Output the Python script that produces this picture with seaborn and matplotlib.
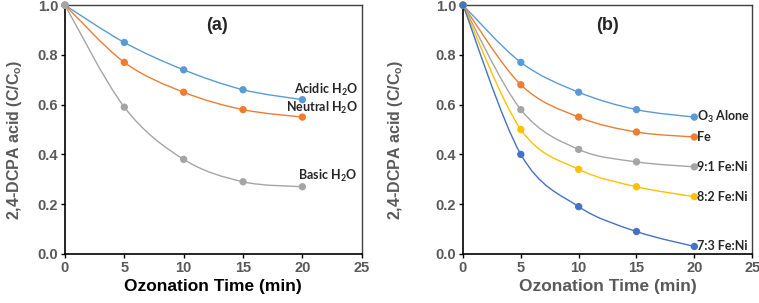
import numpy as np
import pandas as pd
import matplotlib
matplotlib.use("Agg")
import matplotlib.pyplot as plt
from matplotlib.path import Path
from matplotlib.patches import PathPatch
import seaborn as sns

# ----------------------------
# data
# ----------------------------
time_min = [0, 5, 10, 15, 20]

# panel (a): water matrix
acidic = [1.0, 0.85, 0.74, 0.66, 0.62]
neutral = [1.0, 0.77, 0.65, 0.58, 0.55]
basic = [1.0, 0.59, 0.38, 0.29, 0.27]
labels_a = ["Acidic H$_2$O", "Neutral H$_2$O", "Basic H$_2$O"]

# panel (b): catalysts
o3_alone = [1.0, 0.77, 0.65, 0.58, 0.55]
fe = [1.0, 0.68, 0.55, 0.49, 0.47]
fe_ni_91 = [1.0, 0.58, 0.42, 0.37, 0.35]
fe_ni_82 = [1.0, 0.50, 0.34, 0.27, 0.23]
fe_ni_73 = [1.0, 0.40, 0.19, 0.09, 0.03]
labels_b = ["O$_3$ Alone", "Fe", "9:1 Fe:Ni", "8:2 Fe:Ni", "7:3 Fe:Ni"]

BLUE = "#5B9BD5"
ORANGE = "#ED7D31"
GREY = "#A5A5A5"
YELLOW = "#FFC000"
DBLUE = "#4472C4"
TXT = "#595959"

sns.set_style("ticks")
plt.rcParams["font.family"] = ["Liberation Sans", "DejaVu Sans"]
plt.rcParams["mathtext.fontset"] = "custom"
plt.rcParams["mathtext.rm"] = "Lato:bold"
plt.rcParams["mathtext.it"] = "Lato:bold"
plt.rcParams["mathtext.bf"] = "Lato:bold"


def smooth_path(x, y, t=1 / 6):
    # excel-like smoothed line: cubic bezier through the points
    x = np.asarray(x, float)
    y = np.asarray(y, float)
    verts = [(x[0], y[0])]
    codes = [Path.MOVETO]
    n = len(x)
    for i in range(n - 1):
        p0 = (x[max(i - 1, 0)], y[max(i - 1, 0)])
        p1 = (x[i], y[i])
        p2 = (x[i + 1], y[i + 1])
        p3 = (x[min(i + 2, n - 1)], y[min(i + 2, n - 1)])
        c1 = (p1[0] + (p2[0] - p0[0]) * t, p1[1] + (p2[1] - p0[1]) * t)
        c2 = (p2[0] - (p3[0] - p1[0]) * t, p2[1] - (p3[1] - p1[1]) * t)
        verts += [c1, c2, p2]
        codes += [Path.CURVE4] * 3
    return Path(verts, codes)


def draw_panel(ax, series, colors, ylab_x):
    for vals, col in zip(series, colors):
        ax.add_patch(PathPatch(smooth_path(time_min, vals), fill=False,
                               edgecolor=col, lw=1.0, zorder=2))
    df = pd.DataFrame({
        "t": time_min * len(series),
        "c": sum(series, []),
        "s": sum([[i] * len(time_min) for i in range(len(series))], []),
    })
    sns.scatterplot(data=df, x="t", y="c", hue="s", palette=colors,
                    s=28, edgecolor="none", legend=False, zorder=3, ax=ax,
                    clip_on=False)
    ax.set_xlim(0, 25)
    ax.set_ylim(0, 1.0)
    ax.set_xticks([0, 5, 10, 15, 20, 25])
    ax.set_yticks(np.arange(0, 1.01, 0.2))
    ax.yaxis.set_major_formatter(matplotlib.ticker.FormatStrFormatter("%.1f"))
    ax.tick_params(direction="out", length=3, width=1, colors="black",
                   labelcolor=TXT, labelsize=10.5, pad=2)
    for lab in ax.get_xticklabels() + ax.get_yticklabels():
        lab.set_fontweight("bold")
    for side in ["left", "bottom"]:
        ax.spines[side].set_color("black")
        ax.spines[side].set_linewidth(1.2)
    for side in ["top", "right"]:
        ax.spines[side].set_visible(True)
        ax.spines[side].set_color("#404040")
        ax.spines[side].set_linewidth(1.0)
    ax.set_ylabel("2,4-DCPA acid (C/C$_\\mathrm{o}$)", fontsize=11.5,
                  fontweight="bold", color=TXT, va="center")
    ax.yaxis.set_label_coords(ylab_x, 0.46)


fig = plt.figure(figsize=(7.59, 3.03), dpi=100)
ax1 = fig.add_axes([0.0856, 0.162, 0.391, 0.821])
ax2 = fig.add_axes([0.610, 0.162, 0.381, 0.821])

draw_panel(ax1, [acidic, neutral, basic], [BLUE, ORANGE, GREY], -0.17)
ax1.set_xlabel("Ozonation Time (min)", fontsize=12.5, fontweight="bold",
               color="black", labelpad=3)
ax1.text(12.8, 0.92, "(a)", fontsize=13, fontweight="bold", ha="center", va="center")
label_y_a = [0.66, 0.585, 0.315]
for lab, yy in zip(labels_a, label_y_a):
    ax1.text(24.65, yy, lab, fontsize=9, fontweight="bold", family="Lato",
             ha="right", va="center")

draw_panel(ax2, [o3_alone, fe, fe_ni_91, fe_ni_82, fe_ni_73],
           [BLUE, ORANGE, GREY, YELLOW, DBLUE], -0.235)
ax2.set_xlabel("Ozonation Time (min)", fontsize=12.5, fontweight="bold",
               color=TXT, labelpad=3)
ax2.text(12.5, 0.92, "(b)", fontsize=13, fontweight="bold", ha="center", va="center")
label_y_b = [o3_alone[-1], fe[-1], fe_ni_91[-1], fe_ni_82[-1], fe_ni_73[-1]]
for lab, yy in zip(labels_b, label_y_b):
    ax2.text(20.25, yy, lab, fontsize=9, fontweight="bold", family="Lato",
             ha="left", va="center")

fig.savefig("out.png", dpi=100)
